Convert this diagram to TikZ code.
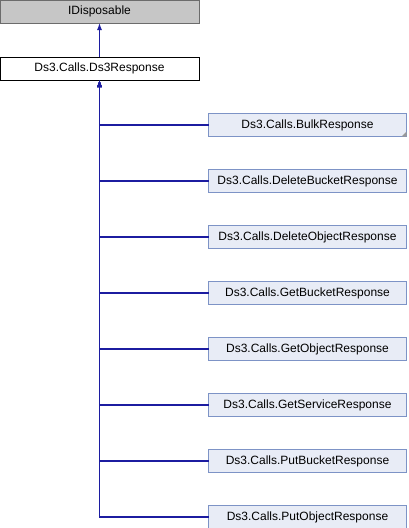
\documentclass[tikz,border=0pt]{standalone}
\usepackage{fontspec}
\setmainfont{Liberation Sans}
\usepackage{xcolor}
\usepackage{tikz}
\usetikzlibrary{arrows.meta, positioning}

\definecolor{edgeblue}{HTML}{1C1CA0}
\definecolor{boxfill}{HTML}{E8ECF6}
\definecolor{boxline}{HTML}{7D93C6}

\begin{document}
\begin{tikzpicture}[
        x=1pt, y=1pt,
        node distance=33pt,
        base/.style={rectangle, draw=black, line width=1pt, align=center, minimum width=199pt, minimum height=23pt, inner sep=0pt, outer sep=0pt, font=\fontsize{12}{14}\selectfont},
        iface/.style={base, draw=gray!85!black, fill=gray!45},
        cls/.style={base, fill=white},
        sub/.style={base, draw=boxline, fill=boxfill, minimum width=198pt},
        arrow/.style={-{Latex[length=7pt, width=5pt]}, line width=1.1pt, draw=edgeblue}
    ]
        \useasboundingbox (0,0) rectangle (408,-528);

        \node[iface] (idisposable) at (99.5,-11.5) {IDisposable};
        \node[cls] (response) at (99.5,-68.5) {Ds3.Calls.Ds3Response};
        \node[sub] (bulk) at (307.5,-125) {Ds3.Calls.BulkResponse};
        \node[sub, below=of bulk] (deletebucket) {Ds3.Calls.DeleteBucketResponse};
        \node[sub, below=of deletebucket] (deleteobject) {Ds3.Calls.DeleteObjectResponse};
        \node[sub, below=of deleteobject] (getbucket) {Ds3.Calls.GetBucketResponse};
        \node[sub, below=of getbucket] (getobject) {Ds3.Calls.GetObjectResponse};
        \node[sub, below=of getobject] (getservice) {Ds3.Calls.GetServiceResponse};
        \node[sub, below=of getservice] (putbucket) {Ds3.Calls.PutBucketResponse};
        \node[sub, below=of putbucket] (putobject) {Ds3.Calls.PutObjectResponse};

        % truncated marker
        \fill[gray!80] (bulk.south east) -- ++(-5,0) -- ++(5,5) -- cycle;

        \draw[arrow] (response) -- (idisposable);
        \foreach \child in {bulk, deletebucket, deleteobject, getbucket, getobject, getservice, putbucket, putobject}
            \draw[arrow] (\child.west) -| (response.south);
    \end{tikzpicture}
\end{document}
